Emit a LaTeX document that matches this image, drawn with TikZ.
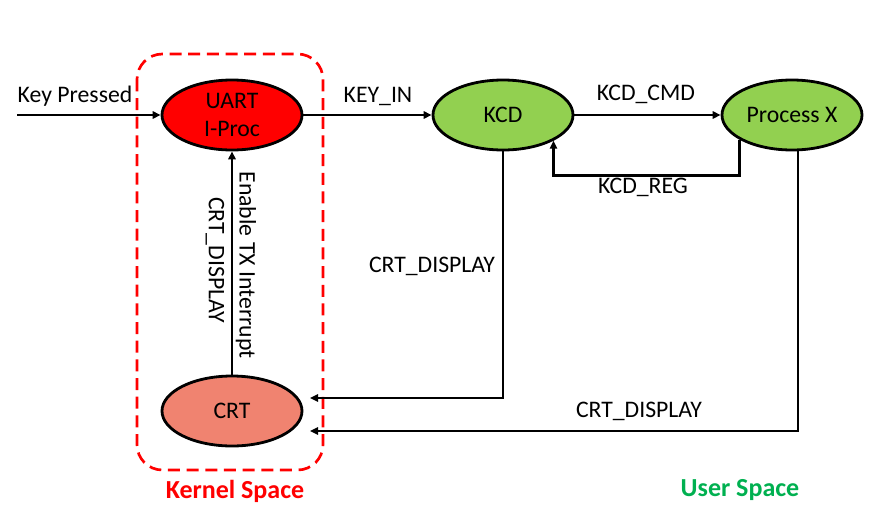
\documentclass[tikz,border=0pt]{standalone}
\usepackage{fontspec}
\setmainfont{Carlito}
\usetikzlibrary{shapes.geometric,arrows.meta,calc}
\definecolor{uartred}{HTML}{FF0000}
\definecolor{kgreen}{HTML}{92D050}
\definecolor{crtsalmon}{HTML}{F08370}
\definecolor{usergreen}{HTML}{00B050}
\tikzset{
  proc/.style={ellipse,draw=black,line width=2.1pt,minimum width=105pt,minimum height=52.5pt,inner sep=0pt,font=\fontsize{17.8}{21.5}\selectfont,align=center},
  arr/.style={line width=2.1pt,-{Triangle[length=6pt,width=5.5pt]}},
  lbl/.style={font=\fontsize{17.8}{21}\selectfont,inner sep=0pt},
  title/.style={font=\fontsize{19.5}{23}\selectfont\bfseries,inner sep=0pt}
}
\begin{document}
\begin{tikzpicture}[x=0.75pt,y=-0.75pt]
\useasboundingbox (0,0) rectangle (875,532);
% kernel space frame
\draw[uartred,line width=2pt,dash pattern=on 9pt off 5pt,rounded corners=19pt] (137,54) rectangle (323,470);
% nodes
\node[proc,fill=uartred] (uart) at (232,115) {UART\\I-Proc};
\node[proc,fill=kgreen] (kcd) at (503,115) {KCD};
\node[proc,fill=kgreen] (px) at (792,115) {Process X};
\node[proc,fill=crtsalmon] (crt) at (232,411) {CRT};
% free ends
\coordinate (kin) at (17,115);
\coordinate (c1) at (310,398);
\coordinate (c2) at (310,431);
% connectors
\draw[arr] (kin) -- (uart);
\draw[arr] (uart) -- (kcd);
\draw[arr] (kcd) -- (px);
\draw[arr] (px.205) -- ++(0,36) -| (kcd.333);
\draw[arr] (kcd.south) |- (c1);
\draw[arr] ($(px.south)+(6,0)$) |- (c2);
\draw[arr] (crt) -- (uart);
% labels
\node[lbl] (lkey) at (75,96) {Key Pressed};
\node[lbl] (lkeyin) at (378,96) {KEY\_IN};
\node[lbl] (lcmd) at (646,94) {KCD\_CMD};
\node[lbl] (lreg) at (643,187) {KCD\_REG};
\node[lbl] (ld1) at (432,266) {CRT\_DISPLAY};
\node[lbl] (ld2) at (639,411) {CRT\_DISPLAY};
\node[lbl,rotate=-90] (ltx) at (246,265) {Enable TX Interrupt};
\node[lbl,rotate=-90] (ld3) at (215,260) {CRT\_DISPLAY};
\node[title,text=uartred] (kern) at (235,491) {Kernel Space};
\node[title,text=usergreen] (user) at (740,490) {User Space};
\end{tikzpicture}
\end{document}
